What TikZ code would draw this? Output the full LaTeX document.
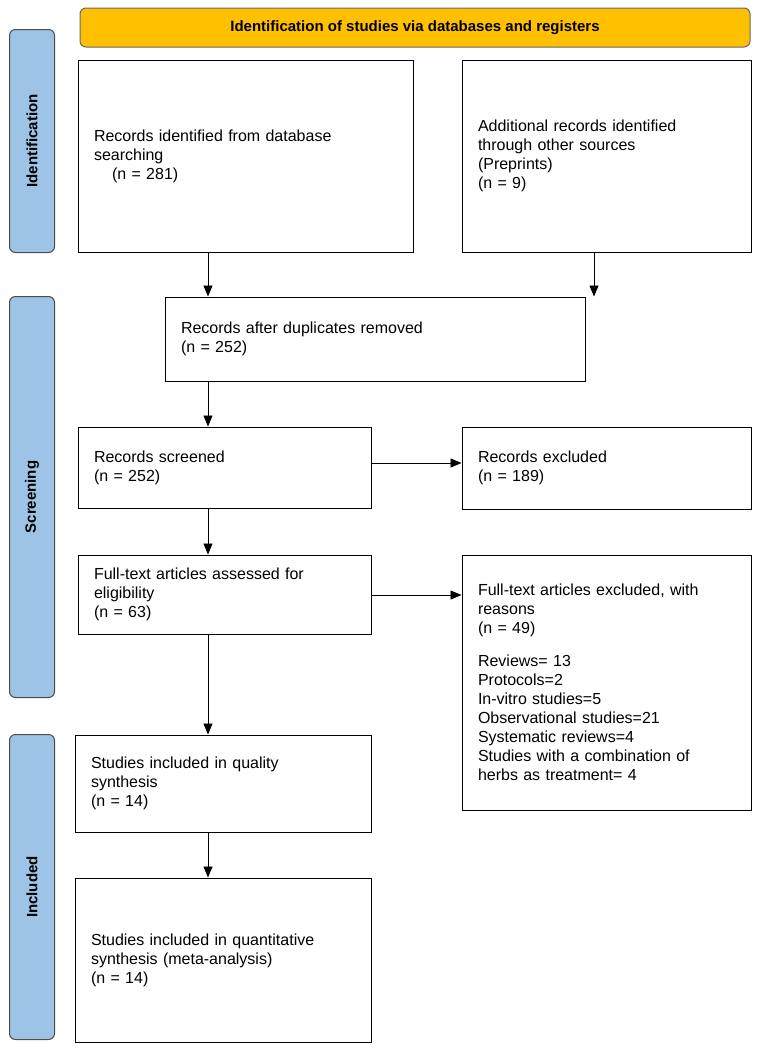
\documentclass[tikz,border=0pt]{standalone}
\usepackage{fontspec}
\setmainfont{Liberation Sans}
\usetikzlibrary{arrows.meta}
\definecolor{headorange}{HTML}{FFC000}
\definecolor{sideblue}{HTML}{9DC3E6}
\tikzset{
  box/.style={draw, line width=1pt, align=left, inner xsep=16pt, font=\fontsize{16}{19}\selectfont},
  side/.style={draw=black!70, line width=1pt, fill=sideblue, rounded corners=6pt, rotate=90,
    font=\bfseries\fontsize{15}{18}\selectfont, inner sep=0pt},
  flow/.style={-{Triangle[length=11pt,width=9pt]}, line width=0.8pt}
}
\begin{document}
\begin{tikzpicture}[x=1pt,y=-1pt]
  \useasboundingbox (0,0) rectangle (765,1055);
  % header and phases
  \node[draw=black!60, line width=1pt, fill=headorange, rounded corners=6pt, minimum width=670, minimum height=39,
    font=\bfseries\fontsize{15}{18}\selectfont] (head) at (415,27.5) {Identification of studies via databases and registers};
  \node[side, minimum width=223, minimum height=45] (ident) at (32,141) {Identification};
  \node[side, minimum width=401, minimum height=45] (screen) at (32,497) {Screening};
  \node[side, minimum width=305, minimum height=45] (incl) at (32,887) {Included};

  % boxes
  \node[box, text width=303, minimum height=192] (dbrec) at (245.5,156)
    {Records identified from database\\searching\\\hspace{18pt}(n = 281)};
  \node[box, text width=257, minimum height=192] (other) at (606.5,156)
    {Additional records identified\\through other sources\\(Preprints)\\(n = 9)};
  \node[box, text width=388, minimum height=84] (dups) at (375,339)
    {Records after duplicates removed\\(n = 252)\\[14pt]};
  \node[box, text width=261, minimum height=81] (scr) at (224.5,467.5)
    {Records screened\\(n = 252)};
  \node[box, text width=257, minimum height=82] (scrx) at (606.5,468)
    {Records excluded\\(n = 189)};
  \node[box, text width=261, minimum height=79] (full) at (224.5,594.5)
    {Full-text articles assessed for\\eligibility\\(n = 63)};
  \node[box, text width=257, minimum height=255] (fullx) at (606.5,682.5)
    {Full-text articles excluded, with\\reasons\\(n = 49)\\[14pt]
     Reviews= 13\\Protocols=2\\In-vitro studies=5\\Observational studies=21\\Systematic reviews=4\\
     Studies with a combination of\\herbs as treatment= 4\\[14pt]};
  \node[box, text width=264, minimum height=97] (qual) at (223,783.5)
    {Studies included in quality\\synthesis\\(n = 14)};
  \node[box, text width=264, minimum height=164] (quant) at (223,960)
    {Studies included in quantitative\\synthesis (meta-analysis)\\(n = 14)};

  % arrows
  \draw[flow] (dbrec.south -| 208,0) -- (dups.north -| 208,0);
  \draw[flow] (other.south -| 594,0) -- (dups.north -| 594,0);
  \draw[flow] (dups.south -| 208,0) -- (scr.north -| 208,0);
  \draw[flow] (scr.east |- 0,463) -- (scrx.west |- 0,463);
  \draw[flow] (scr.south -| 208,0) -- (full.north -| 208,0);
  \draw[flow] (full.east |- 0,595) -- (fullx.west |- 0,595);
  \draw[flow] (full.south -| 208,0) -- (qual.north -| 208,0);
  \draw[flow] (qual.south -| 208,0) -- (quant.north -| 208,0);
\end{tikzpicture}
\end{document}
